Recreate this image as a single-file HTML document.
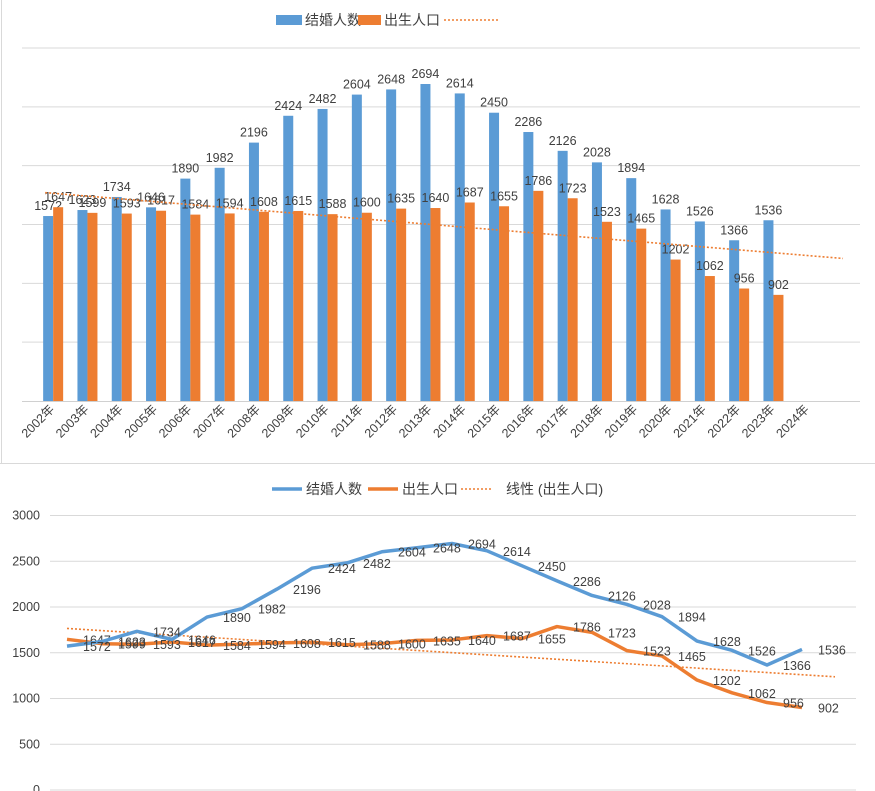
<!DOCTYPE html>
<html><head><meta charset="utf-8">
<style>
html,body{margin:0;padding:0;background:#fff;}
svg{display:block;font-family:"Liberation Sans Narrow","Liberation Sans","Noto Sans CJK SC",sans-serif;}
</style></head>
<body>
<svg id="c" width="875" height="791" xmlns="http://www.w3.org/2000/svg">
<rect x="0" y="0" width="875" height="791" fill="#fff"/>
<line x1="1.5" y1="0" x2="1.5" y2="463" stroke="#d9d9d9"/>
<line x1="0" y1="463.5" x2="875" y2="463.5" stroke="#d9d9d9"/>
<g id="topchart"></g>
<g id="botchart"></g>
</svg>
<script>
const categories=["2002年","2003年","2004年","2005年","2006年","2007年","2008年","2009年","2010年","2011年","2012年","2013年","2014年","2015年","2016年","2017年","2018年","2019年","2020年","2021年","2022年","2023年","2024年"];
const marriages=[1572,1623,1734,1646,1890,1982,2196,2424,2482,2604,2648,2694,2614,2450,2286,2126,2028,1894,1628,1526,1366,1536];
const births=[1647,1599,1593,1617,1584,1594,1608,1615,1588,1600,1635,1640,1687,1655,1786,1723,1523,1465,1202,1062,956,902];
const bottomTicks=[0,500,1000,1500,2000,2500,3000];

const NS="http://www.w3.org/2000/svg";
function mk(tag,attrs,parent,text){const e=document.createElementNS(NS,tag);for(const k in attrs)e.setAttribute(k,attrs[k]);if(text!==undefined)e.textContent=text;parent.appendChild(e);return e;}
const BLUE="#5b9bd5",ORANGE="#ed7d31",TXT="#404040";
const n=births.length;let sx=0,sy=0,sxy=0,sxx=0;
births.forEach((v,i)=>{sx+=i;sy+=v;sxy+=i*v;sxx+=i*i;});
const slope=(n*sxy-sx*sy)/(n*sxx-sx*sx),icpt=(sy-slope*sx)/n;
const trend=i=>icpt+slope*i;

// ---------- TOP chart ----------
const topG=document.getElementById('topchart');
const tY=v=>401-v/3000*353;
const step=34.3,x0=36;
const tCx=i=>x0+step*(i+0.5);
for(let k=1;k<=6;k++){const l=mk('line',{x1:22,x2:860,y1:tY(k*500),y2:tY(k*500),stroke:'#d9d9d9'},topG);

}
const ax=mk('line',{x1:22,x2:860,y1:401.5,y2:401.5,stroke:'#d0d0d0'},topG);


marriages.forEach((v,i)=>{const x=tCx(i)-10;
const b=mk('rect',{x:x,y:tY(v),width:10,height:401-tY(v),fill:BLUE},topG);


const t=mk('text',{x:x+5,y:tY(v)-6,'text-anchor':'middle','font-size':12.5,fill:TXT},topG,v);

});
births.forEach((v,i)=>{const x=tCx(i);
const b=mk('rect',{x:x,y:tY(v),width:10,height:401-tY(v),fill:ORANGE},topG);


const t=mk('text',{x:x+5,y:tY(v)-6,'text-anchor':'middle','font-size':12.5,fill:TXT},topG,v);

});
const tEnd=(843-tCx(0))/step;
const tl=mk('line',{x1:tCx(0)-8,y1:tY(trend(-8/step)),x2:843,y2:tY(trend(tEnd)),stroke:ORANGE,'stroke-width':1.6,'stroke-dasharray':'2,2'},topG);


categories.forEach((c,i)=>{const x=tCx(i)+2,y=410;
const t=mk('text',{x:x,y:y,'text-anchor':'end','font-size':12.5,fill:TXT,transform:`rotate(-45 ${x} ${y})`},topG,c);

});
let lg=mk('rect',{x:276,y:15,width:26,height:10,fill:BLUE},topG);


lg=mk('text',{x:305,y:25,'font-size':14,fill:TXT},topG,'结婚人数');


lg=mk('rect',{x:358,y:15,width:23,height:10,fill:ORANGE},topG);


lg=mk('text',{x:384,y:25,'font-size':14,fill:TXT},topG,'出生人口');


lg=mk('line',{x1:444,x2:500,y1:20,y2:20,stroke:ORANGE,'stroke-width':1.6,'stroke-dasharray':'2,2'},topG);



// ---------- BOTTOM chart ----------
const botG=document.getElementById('botchart');
const bY=v=>790-v/3000*274.5;
const bX=i=>67+35*i;
bottomTicks.forEach(v=>{const g=mk('line',{x1:50,x2:856,y1:bY(v),y2:bY(v),stroke:'#d9d9d9'},botG);


const t=mk('text',{x:40,y:bY(v)+4,'text-anchor':'end','font-size':12.5,fill:TXT},botG,v);

});
const bEnd=(835-bX(0))/35;
const bl=mk('line',{x1:bX(0),y1:bY(trend(0)),x2:835,y2:bY(trend(bEnd)),stroke:ORANGE,'stroke-width':1.6,'stroke-dasharray':'2,2'},botG);


function series(vals,col,name){
const p=mk('polyline',{points:vals.map((v,i)=>bX(i)+','+bY(v)).join(' '),fill:'none',stroke:col,'stroke-width':3.5,'stroke-linejoin':'round'},botG);


vals.forEach((v,i)=>{const t=mk('text',{x:bX(i)+16,y:bY(v)+5,'font-size':12.5,fill:TXT},botG,v);

});}
series(births,ORANGE,'birth');
series(marriages,BLUE,'marriage');
lg=mk('line',{x1:272,x2:302,y1:489,y2:489,stroke:BLUE,'stroke-width':3.5},botG);


lg=mk('text',{x:306,y:494,'font-size':14,fill:TXT},botG,'结婚人数');


lg=mk('line',{x1:368,x2:398,y1:489,y2:489,stroke:ORANGE,'stroke-width':3.5},botG);


lg=mk('text',{x:402,y:494,'font-size':14,fill:TXT},botG,'出生人口');


lg=mk('line',{x1:461,x2:491,y1:489,y2:489,stroke:ORANGE,'stroke-width':1.6,'stroke-dasharray':'2,2'},botG);


lg=mk('text',{x:506,y:494,'font-size':14,fill:TXT},botG,'线性 (出生人口)');


</script>
</body></html>
